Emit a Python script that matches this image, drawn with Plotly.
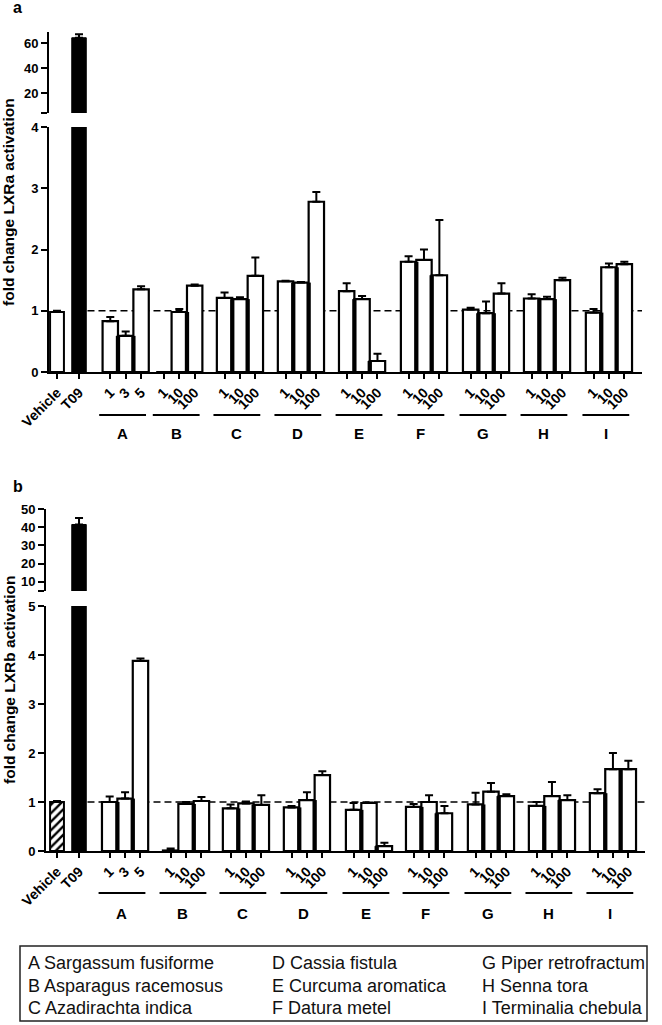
import plotly.graph_objects as go

W, H = 662, 1025
FONT = "Liberation Sans, Arial, sans-serif"

# ---------------- data ----------------
group_letters = ["A", "B", "C", "D", "E", "F", "G", "H", "I"]
group_names = ["Sargassum fusiforme", "Asparagus racemosus", "Azadirachta indica",
               "Cassia fistula", "Curcuma aromatica", "Datura metel",
               "Piper retrofractum", "Senna tora", "Terminalia chebula"]
dose_labels_A = ["1", "3", "5"]
dose_labels_other = ["1", "10", "100"]

# panel a : LXRa
veh_a, veh_a_err = 0.98, 0.02
t09_a, t09_a_err = 64.2, 2.8
vals_a = [0.83, 0.59, 1.35,  0.0, 0.98, 1.41,  1.21, 1.19, 1.57,
          1.48, 1.46, 2.78,  1.32, 1.19, 0.18,  1.80, 1.83, 1.58,
          1.02, 0.96, 1.28,  1.20, 1.19, 1.50,  0.97, 1.71, 1.76]
errs_a = [0.07, 0.07, 0.05,  0.0, 0.05, 0.02,  0.09, 0.03, 0.30,
          0.01, 0.01, 0.16,  0.13, 0.05, 0.12,  0.09, 0.17, 0.90,
          0.03, 0.19, 0.17,  0.07, 0.04, 0.04,  0.06, 0.06, 0.04]

# panel b : LXRb
veh_b, veh_b_err = 1.00, 0.02
t09_b, t09_b_err = 41.5, 3.5
vals_b = [1.00, 1.07, 3.88,  0.01, 0.96, 1.02,  0.87, 0.97, 0.94,
          0.89, 1.04, 1.55,  0.84, 0.98, 0.10,  0.90, 1.00, 0.77,
          0.95, 1.21, 1.12,  0.92, 1.12, 1.04,  1.18, 1.67, 1.67]
errs_b = [0.11, 0.13, 0.05,  0.04, 0.04, 0.08,  0.08, 0.04, 0.20,
          0.03, 0.16, 0.08,  0.14, 0.01, 0.07,  0.06, 0.14, 0.15,
          0.24, 0.18, 0.04,  0.08, 0.29, 0.10,  0.08, 0.33, 0.17]

# ---------------- layout constants (slot units) ----------------
centers_a = [4.46, 7.94, 11.88, 15.84, 19.81, 23.83, 27.86, 31.82, 35.84]
centers_b = [4.42, 8.38, 12.27, 16.23, 20.26, 24.16, 28.18, 32.14, 36.10]
T09_POS = 1.43
VEH_POS = 0.0


def py(px):
    return 1 - px / H


def pxx(px):
    return px / W


fig = go.Figure()
shapes = []
annotations = []

tick_labels = ["Vehicle", "T09"] + dose_labels_A + dose_labels_other * 8


def panel(xa, ylo, yhi, centers, veh, veh_err, t09, t09_err, vals, errs, hatched):
    xname = "x" if xa == 1 else "x2"
    ylo_n = "y" if ylo == 1 else f"y{ylo}"
    yhi_n = f"y{yhi}"
    xs = []
    for c in centers:
        xs += [c - 1, c, c + 1]
    marker = dict(color="white", line=dict(color="black", width=2))
    if hatched:
        marker["pattern"] = dict(shape="/", fgcolor="black", bgcolor="white", size=6, solidity=0.4)
    fig.add_trace(go.Bar(x=[VEH_POS], y=[veh], width=0.9, marker=marker, xaxis=xname, yaxis=ylo_n,
                         error_y=dict(type="data", array=[veh_err], arrayminus=[0], symmetric=False,
                                      color="black", thickness=2, width=4)))
    fig.add_trace(go.Bar(x=[T09_POS], y=[t09], width=0.94,
                         marker=dict(color="black", line=dict(color="black", width=1)),
                         xaxis=xname, yaxis=ylo_n))
    fig.add_trace(go.Bar(x=[T09_POS], y=[t09], width=0.94,
                         marker=dict(color="black", line=dict(color="black", width=1)),
                         xaxis=xname, yaxis=yhi_n,
                         error_y=dict(type="data", array=[t09_err], arrayminus=[0], symmetric=False,
                                      color="black", thickness=2, width=4)))
    fig.add_trace(go.Bar(x=xs, y=vals, width=1.0,
                         marker=dict(color="white", line=dict(color="black", width=2.2)),
                         xaxis=xname, yaxis=ylo_n,
                         error_y=dict(type="data", array=errs, arrayminus=[0] * len(errs), symmetric=False,
                                      color="black", thickness=2, width=4)))
    sx, sy = [], []
    for g in range(len(centers)):
        for k in range(2):
            i = g * 3 + k
            sx.append((xs[i] + xs[i + 1]) / 2)
            sy.append(min(vals[i], vals[i + 1]))
    fig.add_trace(go.Bar(x=sx, y=sy, width=0.28, marker=dict(color="black", line=dict(width=0)),
                         xaxis=xname, yaxis=ylo_n))
    return [VEH_POS, T09_POS] + xs


ticks_a = panel(1, 1, 2, centers_a, veh_a, veh_a_err, t09_a, t09_a_err, vals_a, errs_a, False)
ticks_b = panel(2, 3, 4, centers_b, veh_b, veh_b_err, t09_b, t09_b_err, vals_b, errs_b, True)

tickfont = dict(family=FONT, size=13, color="black", weight="bold")
xtickfont = dict(family=FONT, size=14, color="black", weight="bold")
axis_common = dict(showline=True, linecolor="black", linewidth=2, ticks="outside",
                   tickcolor="black", tickwidth=2, showgrid=False, zeroline=False,
                   automargin=False)

A_left, A_right, A_zero, A_four, A_brk, A_top = 49, 642, 372, 127, 113, 31.75
B_left, B_right, B_zero, B_five, B_brk, B_top = 46, 645, 851, 606, 591, 509
SLOT = 15.4

xr_a = [(A_left - 57) / SLOT, (A_right - 57) / SLOT]
xr_b = [(B_left - 57) / SLOT, (B_right - 57) / SLOT]

fig.update_layout(
    template="none",
    width=W, height=H, margin=dict(l=0, r=0, t=0, b=0, pad=0), autosize=False,
    paper_bgcolor="white", plot_bgcolor="white", showlegend=False, barmode="overlay",
    xaxis=dict(domain=[pxx(A_left), pxx(A_right)], anchor="y", range=xr_a,
               tickmode="array", tickvals=ticks_a, ticktext=tick_labels, tickangle=-45,
               ticklen=5, tickfont=xtickfont, **axis_common),
    yaxis=dict(domain=[py(A_zero), py(A_four)], anchor="x", range=[0, 4],
               tickmode="array", tickvals=[0, 1, 2, 3, 4], ticklen=6, tickfont=tickfont, **axis_common),
    yaxis2=dict(domain=[py(A_brk), py(A_top)], anchor="x", range=[4, 69],
                tickmode="array", tickvals=[4, 20, 40, 60], ticktext=["", "20", "40", "60"], ticklen=6,
                tickfont=tickfont, **axis_common),
    xaxis2=dict(domain=[pxx(B_left), pxx(B_right)], anchor="y3", range=xr_b,
                tickmode="array", tickvals=ticks_b, ticktext=tick_labels, tickangle=-45,
                ticklen=5, tickfont=xtickfont, **axis_common),
    yaxis3=dict(domain=[py(B_zero), py(B_five)], anchor="x2", range=[0, 5],
                tickmode="array", tickvals=[0, 1, 2, 3, 4, 5], ticklen=6, tickfont=tickfont, **axis_common),
    yaxis4=dict(domain=[py(B_brk), py(B_top)], anchor="x2", range=[5, 50],
                tickmode="array", tickvals=[5, 10, 20, 30, 40, 50],
                ticktext=["", "10", "20", "30", "40", "50"],
                ticklen=6, tickfont=tickfont, **axis_common),
)

shapes.append(dict(type="line", xref="x", yref="y", x0=T09_POS + 0.55, x1=xr_a[1], y0=1, y1=1,
                   line=dict(color="black", width=1.6, dash="7px,4px"), layer="below"))
shapes.append(dict(type="line", xref="x2", yref="y3", x0=T09_POS + 0.55, x1=xr_b[1], y0=1, y1=1,
                   line=dict(color="black", width=1.6, dash="7px,4px"), layer="below"))

for centers, xref, line_y, letter_y in [(centers_a, "x", 415, 434), (centers_b, "x2", 893, 913)]:
    for c, letter in zip(centers, group_letters):
        shapes.append(dict(type="line", xref=xref, yref="paper", x0=c - 1.72, x1=c + 1.32,
                           y0=py(line_y), y1=py(line_y), line=dict(color="black", width=2)))
        annotations.append(dict(x=c - 0.2, y=py(letter_y), xref=xref, yref="paper", text=letter,
                                showarrow=False, xanchor="center", yanchor="middle",
                                font=dict(family=FONT, size=15, color="black", weight="bold")))

annotations.append(dict(x=pxx(9), y=py((A_zero + A_top) / 2), xref="paper", yref="paper",
                        text="fold change LXRa activation", textangle=-90, showarrow=False,
                        xanchor="center", yanchor="middle",
                        font=dict(family=FONT, size=15.5, color="black", weight="bold")))
annotations.append(dict(x=pxx(9), y=py((B_zero + B_top) / 2), xref="paper", yref="paper",
                        text="fold change LXRb activation", textangle=-90, showarrow=False,
                        xanchor="center", yanchor="middle",
                        font=dict(family=FONT, size=15.5, color="black", weight="bold")))

annotations.append(dict(x=pxx(17), y=py(7), xref="paper", yref="paper", text="a", showarrow=False,
                        xanchor="center", yanchor="middle",
                        font=dict(family=FONT, size=16, color="black", weight="bold")))
annotations.append(dict(x=pxx(18), y=py(486), xref="paper", yref="paper", text="b", showarrow=False,
                        xanchor="center", yanchor="middle",
                        font=dict(family=FONT, size=16, color="black", weight="bold")))

shapes.append(dict(type="rect", xref="paper", yref="paper", x0=pxx(20), x1=pxx(647),
                   y0=py(1021), y1=py(946), line=dict(color="#222", width=1.5)))
col_x = [26, 270, 480]
row_y = [963, 986, 1008]
for i, (letter, name) in enumerate(zip(group_letters, group_names)):
    col, row = divmod(i, 3)
    annotations.append(dict(x=pxx(col_x[col]), y=py(row_y[row]), xref="paper", yref="paper",
                            text=f"{letter} {name}", showarrow=False, xanchor="left",
                            yanchor="middle", font=dict(family=FONT, size=18, color="#111")))

fig.update_layout(shapes=shapes, annotations=annotations)
fig.write_html("out.html", config={"displayModeBar": False},
               post_script="document.body.style.margin='0';document.body.style.overflow='hidden';")
